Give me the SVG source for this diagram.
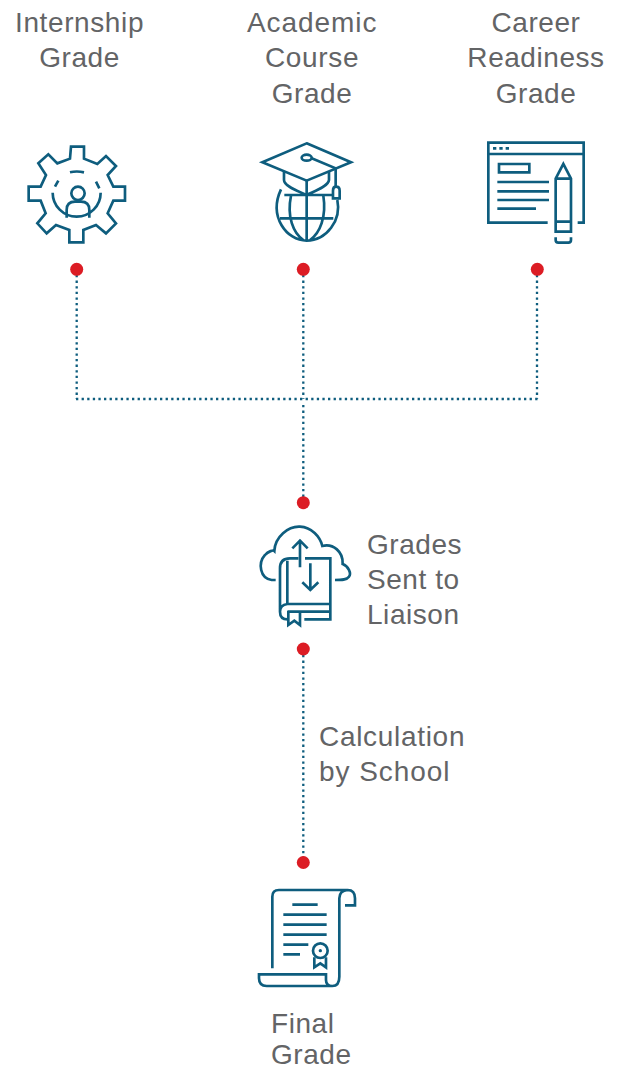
<svg xmlns="http://www.w3.org/2000/svg" width="618" height="1070" viewBox="0 0 618 1070">
<style>
.t{font-family:"Liberation Sans",Arial,sans-serif;font-size:28px;fill:#636466;letter-spacing:.55px}
.m{text-anchor:middle}
.i{fill:none;stroke:#0e5d7e;stroke-width:8}
.c{fill:none;stroke:#0e5d7e;stroke-width:2.3;stroke-dasharray:2.3 3.3}
.d{fill:#dc1c24}
</style>
<rect width="618" height="1070" fill="#fff"/>
<g id="connectors">
<path class="c" d="M76.7 275V399"/>
<path class="c" d="M303.3 275V399"/>
<path class="c" d="M537 275V399"/>
<path class="c" d="M76 399H538"/>
<path class="c" d="M303.3 405V497"/>
<path class="c" d="M303.3 655V857"/>
</g>
<g id="internship">
<text class="t m" x="79.500" y="32" textLength="129">Internship</text>
<text class="t m" x="79.500" y="67">Grade</text>
<g transform="translate(10 130) scale(.3333)"><path class="i" d="M183 50H222L222 86L262 102L288 78L318 108L293 135L310 170H345V212H310L293 250L318 280L288 310L258 285L220 300V337H178V300L138 285L110 310L82 280L107 250L92 212H56V170H92L108 135L85 100L115 73L142 100L180 86Z"/><path class="i" d="M128 188A72 72 0 0 0 272 188M180 127Q200 122 222 127M135 170L145 152M258 155L268 175M170 263V240Q170 215 195 215H213Q238 215 238 240V263"/><circle class="i" cx="204" cy="190" r="20"/></g>
<circle class="d" cx="76.7" cy="269.3" r="6.5"/>
</g>
<g id="academic">
<text class="t m" x="312" y="32" textLength="130">Academic</text>
<text class="t m" x="312" y="67" textLength="94">Course</text>
<text class="t m" x="312" y="103">Grade</text>
<g transform="translate(245 130) scale(.3333)"><path class="i" d="M185 40L318 97L185 152L52 97Z"/><ellipse class="i" cx="185" cy="83" rx="15" ry="9"/><path class="i" d="M200 85L272 115V168M264 205V182Q264 170 273 170Q284 170 284 182V205ZM117 125V150C117 170 165 185 185 195C205 185 250 170 252 150V125M108 178C70 260 125 332 185 332C245 332 290 270 277 210M118 195H262M105 265H265M185 152V332M138 197C125 260 145 310 175 330M235 197C245 260 225 310 195 330"/></g>
<circle class="d" cx="303.3" cy="269.3" r="6.5"/>
</g>
<g id="career">
<text class="t m" x="536" y="32">Career</text>
<text class="t m" x="536" y="67">Readiness</text>
<text class="t m" x="536" y="103">Grade</text>
<g transform="translate(475 130) scale(.3333)"><path class="i" d="M218 278H40V38H326V278H308M38 72H328M54 55H64M73 55H83M92 55H102M72 102H163V127H72ZM67 156H222M67 184H222M67 210H222M67 236H183M242 146L265 102L288 146V305H242ZM242 146H288M242 275H288M242 322V330Q242 338 250 338H280Q288 338 288 330V322"/></g>
<circle class="d" cx="537.3" cy="269.3" r="6.5"/>
</g>
<g id="liaison">
<circle class="d" cx="303.3" cy="502.7" r="6.5"/>
<g transform="translate(245 490) scale(.3333)"><path class="i" d="M92 270H80C45 265 38 220 60 195C70 183 85 180 88 183C90 140 130 108 165 110C200 112 225 140 232 168C265 160 295 185 293 222C310 228 320 250 312 260C305 270 290 270 270 270M165 232V152M142 175L165 152L188 175M196 220V300M172 277L196 300L220 277M160 205H135Q105 205 105 235V365Q105 388 128 388M127 212V342M180 205H256V388H178M127 342Q105 345 105 365M127 342H256M128 365H256M130 362V405L148 392L165 405V362"/></g>
<text class="t" x="367" y="554">Grades</text>
<text class="t" x="367" y="589">Sent to</text>
<text class="t" x="367" y="624">Liaison</text>
<circle class="d" cx="303.3" cy="649" r="6.5"/>
</g>
<g id="calculation">
<text class="t" x="319" y="746" textLength="146">Calculation</text>
<text class="t" x="319" y="781" textLength="131">by School</text>
</g>
<g id="final">
<circle class="d" cx="303.3" cy="862.5" r="6.5"/>
<g transform="translate(245 850) scale(.3333)"><path class="i" d="M82 355V140Q82 120 102 120H308Q330 120 330 145V166H300M308 120Q283 122 283 145V380Q283 408 262 408H65Q42 408 42 385V373H243V390Q243 408 262 408M142 164H218M115 194H245M115 224H245M115 254H245M115 284H190M115 313H165M208 322V352L226 340L243 352V322"/><circle class="i" cx="226" cy="302" r="22"/><circle cx="226" cy="302" r="5" fill="#0e5d7e"/></g>
<text class="t" x="271" y="1033">Final</text>
<text class="t" x="271" y="1064">Grade</text>
</g>
</svg>
